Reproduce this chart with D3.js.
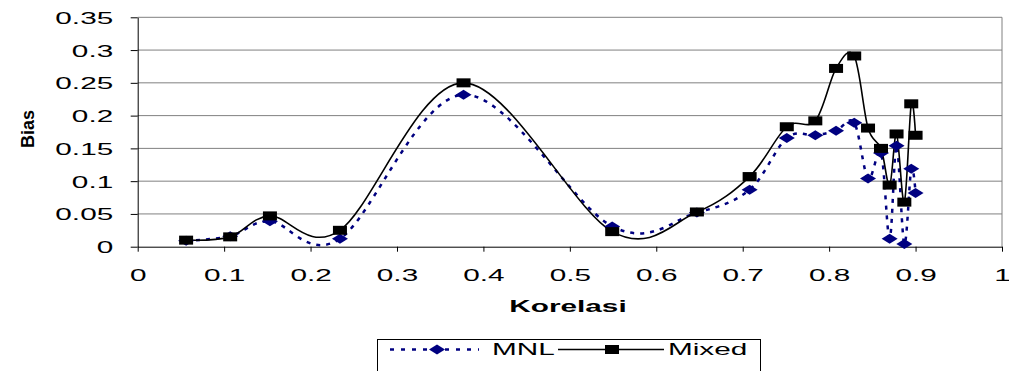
<!DOCTYPE html>
<html>
<head>
<meta charset="utf-8">
<script src="https://cdn.jsdelivr.net/npm/d3@7"></script>
<style>
  html, body { margin: 0; padding: 0; background: #fff; }
  svg { display: block; }
  text { font-family: "Liberation Sans", Arial, sans-serif; fill: #000; }
</style>
</head>
<body>
<svg id="chart" width="1009" height="371"></svg>
<script>
// ---- data ----
const korelasi = [0.056, 0.107, 0.153, 0.234, 0.377, 0.549, 0.647, 0.708, 0.751, 0.784,
                  0.808, 0.829, 0.845, 0.860, 0.870, 0.878, 0.887, 0.895, 0.900];
const biasMNL   = [0.009, 0.016, 0.039, 0.012, 0.232, 0.031, 0.052, 0.087, 0.166, 0.170,
                   0.177, 0.189, 0.104, 0.143, 0.012, 0.154, 0.004, 0.119, 0.082];
const biasMixed = [0.010, 0.015, 0.047, 0.025, 0.250, 0.023, 0.053, 0.107, 0.183, 0.192,
                   0.272, 0.291, 0.181, 0.150, 0.094, 0.172, 0.068, 0.218, 0.170];
const xTicks = [0, 0.1, 0.2, 0.3, 0.4, 0.5, 0.6, 0.7, 0.8, 0.9, 1];
const yTicks = [0, 0.05, 0.1, 0.15, 0.2, 0.25, 0.3, 0.35];
const seriesNames = ["MNL", "Mixed"];
const xTitle = "Korelasi";
const yTitle = "Bias";

// ---- layout ----
const SX = 1.75; // horizontal stretch of text seen in the reference
const svg = d3.select("#chart");
const x = d3.scaleLinear().domain([0, 1]).range([137.7, 1002]);
const y = d3.scaleLinear().domain([0, 0.35]).range([246.7, 17.3]);

// gridlines
svg.append("g").selectAll("line").data(yTicks.filter(d => d > 0)).join("line")
  .attr("x1", x(0)).attr("x2", x(1))
  .attr("y1", d => y(d)).attr("y2", d => y(d))
  .attr("stroke", "#808080").attr("stroke-width", 1);
// right border of plot area
svg.append("line").attr("x1", x(1)).attr("x2", x(1)).attr("y1", y(0.35)).attr("y2", y(0))
  .attr("stroke", "#808080").attr("stroke-width", 1);

// axes
const fmt = d => String(+d.toFixed(2));
const xAxis = svg.append("g").attr("transform", `translate(0,${y(0)})`)
  .call(d3.axisBottom(x).tickValues(xTicks).tickFormat(fmt).tickSize(5).tickSizeOuter(0));
const yAxis = svg.append("g").attr("transform", `translate(${x(0)},0)`)
  .call(d3.axisLeft(y).tickValues(yTicks).tickFormat(fmt).tickSize(7).tickSizeOuter(0));
[xAxis, yAxis].forEach(a => {
  a.select(".domain").attr("stroke", "#000").attr("stroke-width", 1);
  a.selectAll(".tick line").attr("stroke", "#000");
  a.selectAll("text").attr("font-size", 17).attr("font-family", "Liberation Sans, Arial, sans-serif")
    .attr("fill", "#000");
});
xAxis.selectAll(".tick text").attr("y", 34).attr("dy", 0)
  .attr("transform", `scale(${SX},1)`);
yAxis.selectAll(".tick text").attr("x", -24.5 / SX).attr("dy", "0.35em")
  .attr("transform", `scale(${SX},1)`);

// axis titles
function stretched(txt, cx, cy, size, weight, anchor) {
  return svg.append("text").text(txt)
    .attr("x", cx / SX).attr("y", cy)
    .attr("transform", `scale(${SX},1)`)
    .attr("font-size", size).attr("font-weight", weight || "normal")
    .attr("text-anchor", anchor || "middle");
}
stretched(xTitle, 568, 312, 17, "bold");
svg.append("text").text(yTitle)
  .attr("transform", "translate(33.5,129) rotate(-90)")
  .attr("text-anchor", "middle")
  .attr("font-size", 18).attr("font-weight", "bold");

// lines
const pts = vals => korelasi.map((k, i) => [k, vals[i]]);
const line = d3.line().x(d => x(d[0])).y(d => y(d[1])).curve(d3.curveCardinal.tension(0));

svg.append("path").attr("d", line(pts(biasMNL)))
  .attr("fill", "none").attr("stroke", "#000080").attr("stroke-width", 2.5)
  .attr("stroke-dasharray", "4,6");
svg.append("path").attr("d", line(pts(biasMixed)))
  .attr("fill", "none").attr("stroke", "#000").attr("stroke-width", 1.6);

// markers
const DW = 8, DH = 5;  // diamond half sizes
const diamond = (cx, cy) => `M${cx - DW},${cy}L${cx},${cy - DH}L${cx + DW},${cy}L${cx},${cy + DH}Z`;
svg.append("g").selectAll("path").data(pts(biasMNL)).join("path")
  .attr("d", d => diamond(x(d[0]), y(d[1])))
  .attr("fill", "#000080");
const SW = 14, SH = 9;
svg.append("g").selectAll("rect").data(pts(biasMixed)).join("rect")
  .attr("x", d => x(d[0]) - SW / 2).attr("y", d => y(d[1]) - SH / 2)
  .attr("width", SW).attr("height", SH).attr("fill", "#000");

// legend
const lg = svg.append("g");
lg.append("rect").attr("x", 377.5).attr("y", 339.5).attr("width", 383).attr("height", 40)
  .attr("fill", "#fff").attr("stroke", "#000").attr("stroke-width", 1);
const ly = 349.5;
lg.append("line").attr("x1", 390).attr("x2", 479).attr("y1", ly).attr("y2", ly)
  .attr("stroke", "#000080").attr("stroke-width", 2.5).attr("stroke-dasharray", "4,7");
lg.append("path").attr("d", diamond(437, ly)).attr("fill", "#000080");
stretched(seriesNames[0], 492, ly + 6, 17, "normal", "start");
lg.append("line").attr("x1", 558).attr("x2", 664).attr("y1", ly).attr("y2", ly)
  .attr("stroke", "#000").attr("stroke-width", 1.6);
lg.append("rect").attr("x", 612 - SW / 2).attr("y", ly - SH / 2).attr("width", SW).attr("height", SH)
  .attr("fill", "#000");
stretched(seriesNames[1], 668, ly + 6, 17, "normal", "start");
</script>
</body>
</html>
